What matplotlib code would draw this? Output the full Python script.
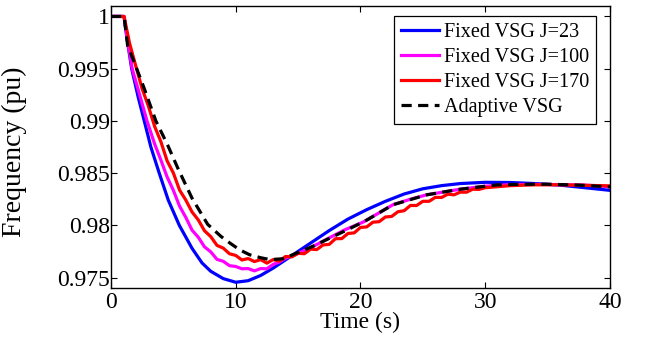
import matplotlib
matplotlib.use("Agg")
import matplotlib.pyplot as plt

# ---------------- data ----------------
t_j23 = [0, 1.05, 1.3, 1.66, 2.2, 2.67, 3.2, 3.87, 4.6, 5.48, 6.5, 7.3, 8.0, 9.0, 10.0,
         11.0, 12.0, 13.0, 14.0, 15.0, 16.0, 17.5, 19.0, 20.5, 22.0, 23.5, 25.0, 26.5,
         28.0, 30.0, 32.0, 34.0, 36.0, 38.0, 40.0]
f_j23 = [1.0, 1.0, 0.9978, 0.995, 0.9922, 0.990, 0.9875, 0.985, 0.9824, 0.980, 0.9778,
         0.9764, 0.9756, 0.9749, 0.97455, 0.9747, 0.9752, 0.9759, 0.9767, 0.9775, 0.9783,
         0.9795, 0.9806, 0.9815, 0.9823, 0.9830, 0.9835, 0.9838, 0.9840, 0.98412, 0.9841,
         0.9840, 0.98385, 0.9836, 0.98335]

t_j100 = [0, 1.05, 1.3, 1.7, 2.3, 2.89, 3.5, 4.0, 4.5, 5.0, 5.5, 6.0, 6.5, 7.0, 7.5, 8.0,
          8.5, 9.0, 9.5, 10.0, 10.5, 11.0, 11.5, 12.0, 12.5, 13.0, 13.5, 14.0, 14.8, 16.2,
          17.5, 18.8, 20.2, 21.5, 22.6, 24.0, 25.3, 26.7, 28.0, 30.0, 32.0, 34.0, 36.0,
          38.0, 40.0]
f_j100 = [1.0, 1.0, 0.9979, 0.995, 0.9925, 0.990, 0.9878, 0.98626, 0.98464, 0.98336,
          0.98184, 0.98076, 0.97954, 0.97886, 0.97794, 0.97746, 0.97674, 0.97656, 0.97614,
          0.97606, 0.97584, 0.97586, 0.97564, 0.97586, 0.97584, 0.97626, 0.97649, 0.97686,
          0.9772, 0.97798, 0.9788, 0.9796, 0.9803, 0.9812, 0.98197, 0.9825, 0.98292,
          0.9832, 0.98346, 0.98375, 0.9839, 0.98392, 0.9839, 0.98385, 0.9837]

t_j170 = [0, 1.05, 1.5, 2.0, 2.5, 3.0, 3.5, 4.0, 4.5, 5.0, 5.5, 6.0, 6.5, 7.0, 7.5, 8.0,
          8.5, 9.0, 9.5, 10.0, 10.5, 11.0, 11.5, 12.0, 12.5, 13.0, 13.5, 14.0, 14.5, 15.0,
          15.5, 16.0, 16.5, 17.0, 17.5, 18.0, 18.5, 19.0, 19.5, 20.0, 20.5, 21.0, 21.5,
          22.0, 22.5, 23.0, 23.5, 24.0, 24.5, 25.0, 25.5, 26.0, 26.5, 27.0, 27.5, 28.0,
          28.5, 29.0, 29.5, 30.0, 31.0, 32.0, 34.0, 36.0, 38.0, 40.0]
f_j170 = [1.0, 1.0, 0.9974, 0.99522, 0.99308, 0.99142, 0.98948, 0.98802, 0.98618, 0.98502,
          0.98338, 0.98242, 0.98128, 0.98052, 0.97948, 0.97892, 0.97808, 0.97782, 0.97728,
          0.97712, 0.97668, 0.97682, 0.97653, 0.97672, 0.97638, 0.97672, 0.97658, 0.97702,
          0.97698, 0.97732, 0.97728, 0.97772, 0.97768, 0.97812, 0.97818, 0.97872, 0.97873,
          0.97922, 0.97928, 0.9798, 0.97985, 0.9803, 0.98035, 0.9808, 0.98085, 0.9813,
          0.9814, 0.9819, 0.9819, 0.9823, 0.9823, 0.98268, 0.98267, 0.98298, 0.98292,
          0.98318, 0.98317, 0.98346, 0.98344, 0.9836, 0.9837, 0.9838, 0.98388, 0.98388,
          0.98383, 0.98378]

t_adapt = [0, 1.05, 1.34, 2.0, 2.67, 3.6, 4.54, 5.35, 6.5, 7.75, 8.82, 9.54, 10.3, 11.1,
           12.0, 12.75, 13.8, 14.9, 16.2, 17.55, 19.0, 20.5, 22.6, 25.3, 28.0, 30.9, 33.0,
           35.0, 37.5, 40.0]
f_adapt = [1.0, 1.0, 0.9972, 0.9952, 0.9931, 0.990, 0.9877, 0.9855, 0.9826, 0.9801,
           0.97894, 0.9783, 0.97767, 0.97719, 0.9769, 0.97672, 0.9768, 0.97735, 0.9780,
           0.97878, 0.9796, 0.9805, 0.98197, 0.98292, 0.98346, 0.98387, 0.98393, 0.98394,
           0.98385, 0.98368]

labels = ["Fixed VSG J=23", "Fixed VSG J=100", "Fixed VSG J=170", "Adaptive VSG"]
x_ticks = [0, 10, 20, 30, 40]
y_ticks = [0.975, 0.98, 0.985, 0.99, 0.995, 1.0]
y_ticklabels = ["0.975", "0.98", "0.985", "0.99", "0.995", "1"]

# ---------------- figure ----------------
plt.rcParams["font.family"] = ["Liberation Serif", "DejaVu Serif"]

fig = plt.figure(figsize=(6.45, 3.37), dpi=100)
ax = fig.add_axes([0.172, 0.1454, 0.7737, 0.8368])

lw = 2.3
ax.plot(t_j23, f_j23, color="#0000ff", lw=lw, label=labels[0])
ax.plot(t_j100, f_j100, color="#ff00ff", lw=lw, label=labels[1])
ax.plot(t_j170, f_j170, color="#ff0000", lw=lw, label=labels[2])
ax.plot(t_adapt, f_adapt, color="black", lw=lw, linestyle=(0, (3.2, 2.0)), label=labels[3])

ax.set_xlim(0, 40)
ax.set_ylim(0.974, 1.001)
ax.set_xticks(x_ticks)
ax.set_xticklabels([str(v) for v in x_ticks])
ax.set_yticks(y_ticks)
ax.set_yticklabels(y_ticklabels)

ax.tick_params(direction="in", top=True, right=True, length=4, width=0.8,
               labelsize=17)
ax.tick_params(axis="y", pad=0.5)
ax.tick_params(axis="x", pad=3)
for s in ax.spines.values():
    s.set_linewidth(1.0)
    s.set_color("black")

ax.set_xlabel("Time (s)", fontsize=17)
ax.xaxis.set_label_coords(0.5, -0.085)
ax.set_ylabel("Frequency (pu)", fontsize=20)
ax.yaxis.set_label_coords(-0.168, 0.482)

leg = ax.legend(loc="upper right", bbox_to_anchor=(0.972, 0.965), fontsize=14.5,
                frameon=True, fancybox=False, framealpha=1, edgecolor="black",
                handlelength=1.85, handletextpad=0.25, labelspacing=0.3,
                borderpad=0.35, borderaxespad=0)
leg.get_frame().set_linewidth(0.9)

fig.savefig("out.png", dpi=100)
